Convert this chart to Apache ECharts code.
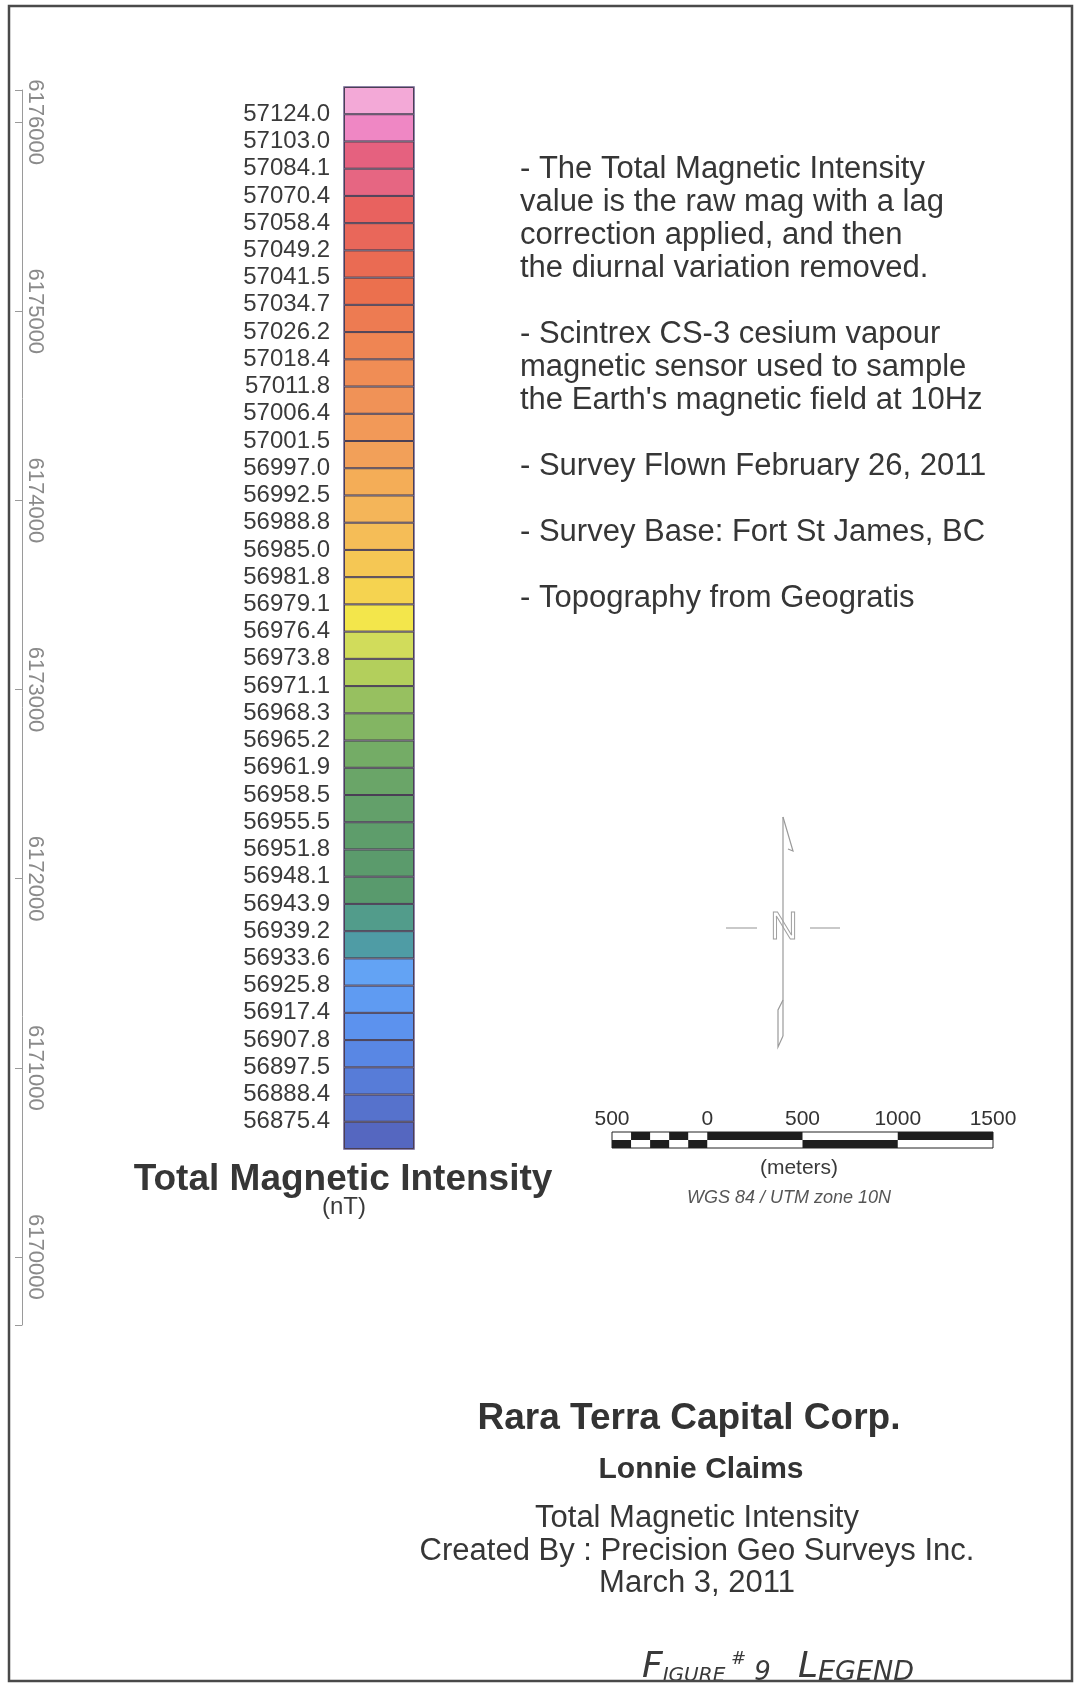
<!DOCTYPE html>
<html>
<head>
<meta charset="utf-8">
<script src="https://cdn.jsdelivr.net/npm/echarts@6/dist/echarts.min.js"></script>
<style>
html,body{margin:0;padding:0;background:#fff;}
#chart{width:1074px;height:1688px;}
</style>
</head>
<body>
<div id="chart"></div>
<script>
// ---- data ----
const breakLabels = ['57124.0','57103.0','57084.1','57070.4','57058.4','57049.2','57041.5','57034.7','57026.2','57018.4','57011.8','57006.4','57001.5','56997.0','56992.5','56988.8','56985.0','56981.8','56979.1','56976.4','56973.8','56971.1','56968.3','56965.2','56961.9','56958.5','56955.5','56951.8','56948.1','56943.9','56939.2','56933.6','56925.8','56917.4','56907.8','56897.5','56888.4','56875.4'];
const bandColors = ['#f3a9d7','#ef87c4','#e5617f','#e66682','#e8625f','#e9675a','#ea6b53','#eb704e','#ed7b52','#ef8553','#f08d55','#f09257','#f29958','#f2a059','#f4ad57','#f4b559','#f5bd57','#f5c754','#f5d350','#f3e64b','#d1dc5b','#b3cf5c','#97c060','#83b563','#74ac66','#6aa568','#63a06a','#5e9d6b','#5b9b6c','#599a6d','#529c8b','#4f9ca5','#63a3f4','#5f9bf2','#5c92ee','#5987e4','#577cd8','#5672cc','#5567c0'];
const northingTicks = [6170000,6171000,6172000,6173000,6174000,6175000,6176000];
const northingMin = 6169640;
const northingMax = 6176170;
const scaleTicks = [-500,0,500,1000,1500];
const scaleBlackStart = [-500,-400,-300,-200,-100,0,500,1000];
const scaleBlackEnd   = [-400,-300,-200,-100,0,500,1000,1500];
const scaleBlackRow   = [1,0,1,0,1,0,1,0]; // 0 = top row, 1 = bottom row
const scaleRows = ['top','bottom'];
const notes = [
  '- The Total Magnetic Intensity',
  'value is the raw mag with a lag',
  'correction applied, and then',
  'the diurnal variation removed.',
  '',
  '- Scintrex CS-3 cesium vapour',
  'magnetic sensor used to sample',
  "the Earth's magnetic field at 10Hz",
  '',
  '- Survey Flown February 26, 2011',
  '',
  '- Survey Base: Fort St James, BC',
  '',
  '- Topography from Geogratis'
];

// ---- derived ----
const bandNames = bandColors.map((c, i) => {
  if (i === 0) return '> ' + breakLabels[0];
  if (i === bandColors.length - 1) return '< ' + breakLabels[breakLabels.length - 1];
  return breakLabels[i] + ' – ' + breakLabels[i - 1];
});
const FF = '"Liberation Sans", Arial, sans-serif';
const HW = '"DejaVu Sans", sans-serif';

const chart = echarts.init(document.getElementById('chart'), null, {renderer: 'canvas'});

function txt(text, x, y, size, extra) {
  return {type: 'text', silent: true, style: Object.assign({
    text: text, x: x, y: y, align: 'center', verticalAlign: 'middle',
    textAlign: 'center', textVerticalAlign: 'middle',
    fontSize: size, fontFamily: FF, fill: '#363636'}, extra || {})};
}

const option = {
  animation: false,
  backgroundColor: '#ffffff',
  grid: [
    {left: 22, top: 90, width: 2, height: 1235, show: false},
    {left: 344, top: 87, width: 70, height: 1062, show: true, borderColor: '#6b5c8c', borderWidth: 1.5, backgroundColor: 'transparent'},
    {left: 612, top: 1132, width: 381, height: 16, show: true, borderColor: '#222', borderWidth: 1, backgroundColor: '#fff'}
  ],
  xAxis: [
    {gridIndex: 0, type: 'value', show: false, min: 0, max: 1},
    {gridIndex: 1, type: 'value', show: false, min: 0, max: 1},
    {gridIndex: 2, type: 'value', min: -500, max: 1500, position: 'top',
     axisLine: {show: false}, axisTick: {show: false}, splitLine: {show: false},
     axisLabel: {customValues: scaleTicks, formatter: v => String(Math.abs(v)), fontSize: 21, fontFamily: FF, color: '#333', margin: 2}}
  ],
  yAxis: [
    {gridIndex: 0, type: 'value', min: northingMin, max: northingMax, position: 'left',
     axisLine: {show: true, lineStyle: {color: '#9a9a9a', width: 1}},
     axisTick: {show: true, inside: false, length: 7, lineStyle: {color: '#9a9a9a'}, customValues: [northingMin].concat(northingTicks, [northingMax])},
     splitLine: {show: false},
     axisLabel: {inside: true, rotate: -90, margin: 2, customValues: northingTicks, formatter: v => String(v), fontSize: 22, fontFamily: FF, color: '#8a8a8a'}},
    {gridIndex: 1, type: 'category', data: bandNames, inverse: true, show: false, position: 'right'},
    {gridIndex: 1, type: 'value', min: 0, max: bandColors.length, interval: 1, inverse: true, position: 'left',
     axisLine: {show: false}, axisTick: {show: false}, splitLine: {show: false},
     axisLabel: {margin: 14, fontSize: 24, fontFamily: FF, color: '#3a3a3a',
       formatter: v => (v >= 1 && v <= breakLabels.length) ? breakLabels[v - 1] : ''}},
    {gridIndex: 2, type: 'category', data: scaleRows, inverse: true, show: false}
  ],
  series: [
    {
      name: 'Total Magnetic Intensity', type: 'bar', xAxisIndex: 1, yAxisIndex: 1,
      barCategoryGap: '0%', silent: true,
      itemStyle: {borderColor: '#4a3f55', borderWidth: 1},
      data: bandColors.map((c, i) => ({value: 1, name: bandNames[i], itemStyle: {color: c}}))
    },
    {
      name: 'Scale', type: 'custom', xAxisIndex: 2, yAxisIndex: 3, silent: true,
      data: scaleBlackStart.map((s, i) => [s, scaleBlackEnd[i], scaleBlackRow[i]]),
      encode: {x: [0, 1], y: 2},
      renderItem: function (params, api) {
        const p0 = api.coord([api.value(0), api.value(2)]);
        const p1 = api.coord([api.value(1), api.value(2)]);
        const h = api.size([0, 1])[1];
        return {type: 'rect', shape: {x: p0[0], y: p0[1] - h / 2, width: p1[0] - p0[0], height: h},
                style: {fill: '#1e1e1e'}};
      }
    }
  ],
  graphic: [
    {type: 'rect', silent: true, z: 100, shape: {x: 9, y: 6, width: 1063, height: 1675},
     style: {fill: 'rgba(0,0,0,0)', stroke: '#4a4a4a', lineWidth: 2.5}},
    txt('Total Magnetic Intensity', 343, 1180, 37, {fontWeight: 'bold', fill: '#363636'}),
    txt('(nT)', 344, 1207, 24, {fill: '#3a3a3a'}),
    {type: 'text', silent: true, style: {text: notes.join('\n'), x: 520, y: 153, align: 'left', verticalAlign: 'top', textAlign: 'left', textVerticalAlign: 'top', lineHeight: 33, fontSize: 31, fontFamily: FF, fill: '#363636'}},
    // north arrow
    {type: 'group', silent: true, children: [
      {type: 'line', shape: {x1: 783, y1: 817, x2: 783, y2: 1036}, style: {stroke: '#9a9a9a', lineWidth: 1.2}},
      {type: 'polyline', shape: {points: [[783, 817], [793, 851], [788, 849]]}, style: {stroke: '#9a9a9a', lineWidth: 1.2, fill: null}},
      {type: 'polyline', shape: {points: [[783, 1000], [778, 1010], [778, 1047], [783, 1036]]}, style: {stroke: '#9a9a9a', lineWidth: 1.2, fill: null}},
      {type: 'line', shape: {x1: 726, y1: 928, x2: 757, y2: 928}, style: {stroke: '#a5a5a5', lineWidth: 1.2}},
      {type: 'line', shape: {x1: 810, y1: 928, x2: 840, y2: 928}, style: {stroke: '#a5a5a5', lineWidth: 1.2}},
      {type: 'text', style: {text: 'N', x: 784, y: 929, align: 'center', verticalAlign: 'middle', textAlign: 'center', textVerticalAlign: 'middle', fontSize: 38, fontFamily: FF, fill: 'rgba(255,255,255,0)', stroke: '#a0a0a0', lineWidth: 1}}
    ]},
    txt('(meters)', 799, 1168, 21, {fill: '#3a3a3a'}),
    txt('WGS 84 / UTM zone 10N', 789, 1198, 18, {fontStyle: 'italic', fill: '#555'}),
    txt('Rara Terra Capital Corp.', 689, 1419, 37, {fontWeight: 'bold', fill: '#333'}),
    txt('Lonnie Claims', 701, 1470, 30, {fontWeight: 'bold', fill: '#333'}),
    {type: 'text', silent: true, style: {text: 'Total Magnetic Intensity\nCreated By : Precision Geo Surveys Inc.\nMarch 3, 2011', x: 697, y: 1551, align: 'center', verticalAlign: 'middle', textAlign: 'center', textVerticalAlign: 'middle', lineHeight: 32.5, fontSize: 31, fontFamily: FF, fill: '#363636'}},
    {type: 'text', silent: true, style: {
      text: '{b|F}{s|IGURE}{h| #}{n| 9}', x: 642, y: 1686, align: 'left', verticalAlign: 'bottom', textAlign: 'left', textVerticalAlign: 'bottom',
      rich: {
        b: {fontSize: 36, fontFamily: HW, fontStyle: 'italic', fill: '#3a3a3a', verticalAlign: 'bottom'},
        s: {fontSize: 20, fontFamily: HW, fontStyle: 'italic', fill: '#3a3a3a', verticalAlign: 'bottom'},
        h: {fontSize: 18, fontFamily: HW, fontStyle: 'italic', fill: '#3a3a3a', verticalAlign: 'top'},
        n: {fontSize: 26, fontFamily: HW, fontStyle: 'italic', fill: '#3a3a3a', verticalAlign: 'bottom'}
      }}},
    {type: 'text', silent: true, style: {
      text: '{b|L}{s|EGEND}', x: 798, y: 1686, align: 'left', verticalAlign: 'bottom', textAlign: 'left', textVerticalAlign: 'bottom',
      rich: {
        b: {fontSize: 36, fontFamily: HW, fontStyle: 'italic', fill: '#3a3a3a', verticalAlign: 'bottom'},
        s: {fontSize: 27, fontFamily: HW, fontStyle: 'italic', fill: '#3a3a3a', verticalAlign: 'bottom'}
      }}}
  ]
};
chart.setOption(option);
</script>
</body>
</html>
